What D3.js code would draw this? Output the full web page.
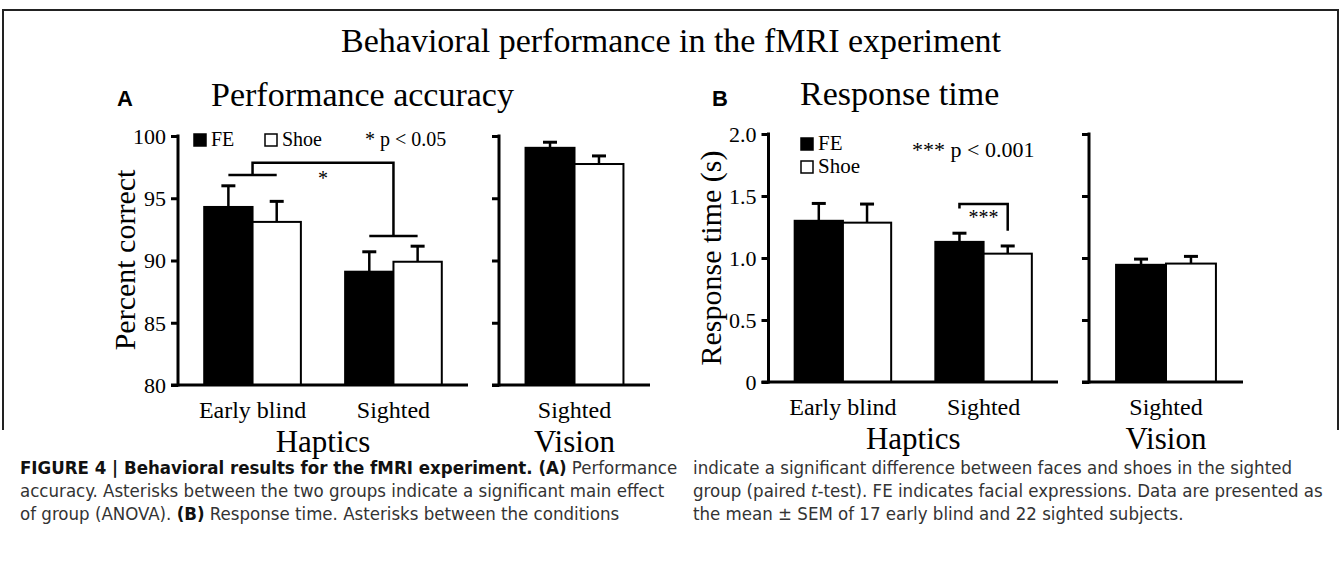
<!DOCTYPE html>
<html>
<head>
<meta charset="utf-8">
<script src="https://cdn.jsdelivr.net/npm/d3@7"></script>
<style>
  body { margin: 0; background: #fff; }
  svg { display: block; }
</style>
</head>
<body>
<svg id="chart" width="1342" height="571"></svg>
<script>
// groups and conditions
const hapticGroups = ["Early blind", "Sighted"];
const visionGroups = ["Sighted"];
const conditions = ["FE", "Shoe"];

// A: percent correct (mean and SEM)
const accHapticFE = [94.3, 89.1];
const accHapticFESem = [1.7, 1.6];
const accHapticShoe = [93.1, 89.9];
const accHapticShoeSem = [1.65, 1.25];
const accVisionFE = [99.05];
const accVisionFESem = [0.45];
const accVisionShoe = [97.75];
const accVisionShoeSem = [0.65];

// B: response time in seconds (mean and SEM)
const rtHapticFE = [1.30, 1.13];
const rtHapticFESem = [0.14, 0.07];
const rtHapticShoe = [1.285, 1.035];
const rtHapticShoeSem = [0.15, 0.062];
const rtVisionFE = [0.945];
const rtVisionFESem = [0.046];
const rtVisionShoe = [0.955];
const rtVisionShoeSem = [0.058];

// ticks
const accTicks = [80, 85, 90, 95, 100];
const rtTicks = [0, 0.5, 1.0, 1.5, 2.0];
const rtTickLabels = ["0", "0.5", "1.0", "1.5", "2.0"];

const serif = "'Liberation Serif', 'Times New Roman', Times, serif";
const sans = "'Liberation Sans', Arial, Helvetica, sans-serif";
const narrow = "'Liberation Sans Narrow', 'DejaVu Sans Condensed', 'Liberation Sans', Arial, sans-serif";

const svg = d3.select("#chart");

// outer frame (open at the bottom, as in the figure crop)
svg.append("path")
    .attr("d", "M3,430V10H1338V430")
    .attr("fill", "none")
    .attr("stroke", "#222")
    .attr("stroke-width", 2);

svg.append("text")
    .attr("x", 671).attr("y", 52)
    .attr("text-anchor", "middle")
    .attr("font-family", serif)
    .attr("font-size", 34)
    .text("Behavioral performance in the fMRI experiment");

const yA = d3.scaleLinear().domain([80, 100]).range([385, 136]);
const yB = d3.scaleLinear().domain([0, 2]).range([382, 134]);

// draws one set of axes with grouped bars and upper error bars
function panel(cfg) {
    const g = svg.append("g");
    const y = cfg.y;
    const yBottom = y.range()[0];
    const x = d3.scaleBand()
        .domain(cfg.groups)
        .range(cfg.xr)
        .paddingInner(0.314)
        .paddingOuter(0.186);
    const xs = d3.scaleBand().domain(conditions).range([0, x.bandwidth()]);

    const rows = [];
    cfg.groups.forEach((grp, i) => {
        rows.push({ group: grp, cond: "FE", v: cfg.fe[i], e: cfg.feSem[i] });
        rows.push({ group: grp, cond: "Shoe", v: cfg.shoe[i], e: cfg.shoeSem[i] });
    });

    g.selectAll(".bar")
        .data(rows)
        .enter()
        .append("rect")
        .attr("class", "bar")
        .attr("x", d => x(d.group) + xs(d.cond))
        .attr("y", d => y(d.v))
        .attr("width", xs.bandwidth())
        .attr("height", d => yBottom - y(d.v))
        .attr("fill", d => d.cond === "FE" ? "#000" : "#fff")
        .attr("stroke", "#000")
        .attr("stroke-width", 2);

    const cx = d => x(d.group) + xs(d.cond) + xs.bandwidth() / 2;

    g.selectAll(".err")
        .data(rows)
        .enter()
        .append("line")
        .attr("x1", cx).attr("x2", cx)
        .attr("y1", d => y(d.v)).attr("y2", d => y(d.v + d.e))
        .attr("stroke", "#000")
        .attr("stroke-width", 2.5);

    g.selectAll(".cap")
        .data(rows)
        .enter()
        .append("line")
        .attr("x1", d => cx(d) - 7).attr("x2", d => cx(d) + 7)
        .attr("y1", d => y(d.v + d.e)).attr("y2", d => y(d.v + d.e))
        .attr("stroke", "#000")
        .attr("stroke-width", 3);

    // y axis
    const yAxis = d3.axisLeft(y)
        .tickValues(cfg.ticks)
        .tickSize(7)
        .tickSizeOuter(0)
        .tickPadding(5)
        .tickFormat(cfg.labels ? cfg.fmt : "");
    const ya = g.append("g")
        .attr("transform", `translate(${cfg.xr[0]},0)`)
        .call(yAxis)
        .attr("font-family", serif)
        .attr("font-size", 22);
    ya.select(".domain").attr("stroke-width", 3).attr("d", `M0,${yBottom + 1.5}V${y.range()[1] - 1.5}`);
    ya.selectAll(".tick line").attr("stroke-width", 3);
    ya.selectAll(".tick text").attr("fill", "#000").attr("dy", "0.34em");

    // x axis
    const xa = g.append("g")
        .attr("transform", `translate(0,${yBottom})`)
        .call(d3.axisBottom(x).tickSize(0).tickPadding(16))
        .attr("font-family", serif)
        .attr("font-size", 24);
    xa.select(".domain")
        .attr("d", `M${cfg.xr[0] - 7},0H${cfg.xr[1]}`)
        .attr("stroke-width", 3);
    xa.selectAll(".tick text").attr("fill", "#000");

    g.append("text")
        .attr("x", (x(cfg.groups[0]) + x(cfg.groups[cfg.groups.length - 1]) + x.bandwidth()) / 2)
        .attr("y", yBottom + 67)
        .attr("text-anchor", "middle")
        .attr("font-family", serif)
        .attr("font-size", 31)
        .text(cfg.title);

    return { x, xs };
}

// ---- Panel A ----
const aH = panel({
    y: yA, xr: [178, 468], groups: hapticGroups,
    fe: accHapticFE, feSem: accHapticFESem, shoe: accHapticShoe, shoeSem: accHapticShoeSem,
    ticks: accTicks, labels: true, fmt: d3.format("d"), title: "Haptics"
});
panel({
    y: yA, xr: [499, 650], groups: visionGroups,
    fe: accVisionFE, feSem: accVisionFESem, shoe: accVisionShoe, shoeSem: accVisionShoeSem,
    ticks: accTicks, labels: false, title: "Vision"
});

// ---- Panel B ----
const bH = panel({
    y: yB, xr: [768.5, 1058], groups: hapticGroups,
    fe: rtHapticFE, feSem: rtHapticFESem, shoe: rtHapticShoe, shoeSem: rtHapticShoeSem,
    ticks: rtTicks, labels: true, fmt: (d, i) => rtTickLabels[i], title: "Haptics"
});
panel({
    y: yB, xr: [1089, 1243], groups: visionGroups,
    fe: rtVisionFE, feSem: rtVisionFESem, shoe: rtVisionShoe, shoeSem: rtVisionShoeSem,
    ticks: rtTicks, labels: false, title: "Vision"
});

// panel letters and titles
[["A", 117], ["B", 712]].forEach(([t, px]) => {
    svg.append("text")
        .attr("x", px).attr("y", 106)
        .attr("font-family", sans)
        .attr("font-weight", "bold")
        .attr("font-size", 22)
        .text(t);
});
svg.append("text").attr("x", 211).attr("y", 106)
    .attr("font-family", serif).attr("font-size", 34)
    .text("Performance accuracy");
svg.append("text").attr("x", 800).attr("y", 105)
    .attr("font-family", serif).attr("font-size", 34)
    .text("Response time");

// y axis titles
svg.append("text")
    .attr("transform", "translate(135,260) rotate(-90)")
    .attr("text-anchor", "middle")
    .attr("font-family", serif).attr("font-size", 30)
    .text("Percent correct");
svg.append("text")
    .attr("transform", "translate(721,258) rotate(-90)")
    .attr("text-anchor", "middle")
    .attr("font-family", serif).attr("font-size", 30)
    .text("Response time (s)");

// legends
function legendItem(x0, yBase, fill, label, size) {
    svg.append("rect")
        .attr("x", x0).attr("y", yBase - 12)
        .attr("width", 12).attr("height", 12)
        .attr("fill", fill)
        .attr("stroke", "#000").attr("stroke-width", 1.5);
    svg.append("text")
        .attr("x", x0 + 17).attr("y", yBase)
        .attr("font-family", serif).attr("font-size", size)
        .text(label);
}
legendItem(194, 146, "#000", "FE", 20);
legendItem(265, 146, "#fff", "Shoe", 20);
svg.append("text").attr("x", 365).attr("y", 146)
    .attr("font-family", serif).attr("font-size", 20)
    .text("* p < 0.05");

legendItem(801, 150, "#000", "FE", 21);
legendItem(801, 173, "#fff", "Shoe", 21);
svg.append("text").attr("x", 912).attr("y", 157)
    .attr("font-family", serif).attr("font-size", 22)
    .text("*** p < 0.001");

// significance marks, A: main effect of group
const cxA = (grp, c) => aH.x(grp) + aH.xs(c) + aH.xs.bandwidth() / 2;
const gcA = grp => aH.x(grp) + aH.x.bandwidth() / 2;
const sig = svg.append("g").attr("fill", "none").attr("stroke", "#000").attr("stroke-width", 2.5);
sig.append("line")
    .attr("x1", cxA("Early blind", "FE")).attr("x2", cxA("Early blind", "Shoe"))
    .attr("y1", yA(96.87)).attr("y2", yA(96.87));
sig.append("line")
    .attr("x1", cxA("Sighted", "FE")).attr("x2", cxA("Sighted", "Shoe"))
    .attr("y1", yA(91.97)).attr("y2", yA(91.97));
sig.append("path")
    .attr("d", `M${gcA("Early blind")},${yA(96.87)}V${yA(97.86)}H${gcA("Sighted")}V${yA(91.97)}`);
svg.append("text")
    .attr("x", (gcA("Early blind") + gcA("Sighted")) / 2).attr("y", 185)
    .attr("text-anchor", "middle")
    .attr("font-family", serif).attr("font-size", 20)
    .text("*");

// B: paired difference within sighted
const cxB = c => bH.x("Sighted") + bH.xs(c) + bH.xs.bandwidth() / 2;
sig.append("path")
    .attr("d", `M${cxB("FE")},${yB(1.40)}V${yB(1.435)}H${cxB("Shoe")}V${yB(1.22)}`);
svg.append("text")
    .attr("x", (cxB("FE") + cxB("Shoe")) / 2).attr("y", 224)
    .attr("text-anchor", "middle")
    .attr("font-family", serif).attr("font-size", 20)
    .text("***");

// caption
const capLines = [
    { x: 20, y: 474, parts: [["FIGURE 4 | Behavioral results for the fMRI experiment. (A)", "bold"], [" Performance", "normal"]] },
    { x: 20, y: 497, parts: [["accuracy. Asterisks between the two groups indicate a significant main effect", "normal"]] },
    { x: 20, y: 520, parts: [["of group (ANOVA). ", "normal"], ["(B)", "bold"], [" Response time. Asterisks between the conditions", "normal"]] },
    { x: 693, y: 474, parts: [["indicate a significant difference between faces and shoes in the sighted", "normal"]] },
    { x: 693, y: 497, parts: [["group (paired ", "normal"], ["t", "italic"], ["-test). FE indicates facial expressions. Data are presented as", "normal"]] },
    { x: 693, y: 520, parts: [["the mean \u00b1 SEM of 17 early blind and 22 sighted subjects.", "normal"]] }
];
capLines.forEach(line => {
    const t = svg.append("text")
        .attr("x", line.x).attr("y", line.y)
        .attr("font-family", narrow)
        .attr("font-size", 18.5)
        .attr("fill", "#333");
    line.parts.forEach(([s, style]) => {
        t.append("tspan")
            .attr("font-weight", style === "bold" ? "bold" : "normal")
            .attr("font-style", style === "italic" ? "italic" : "normal")
            .attr("fill", style === "bold" ? "#111" : "#333")
            .text(s);
    });
});
</script>
</body>
</html>
